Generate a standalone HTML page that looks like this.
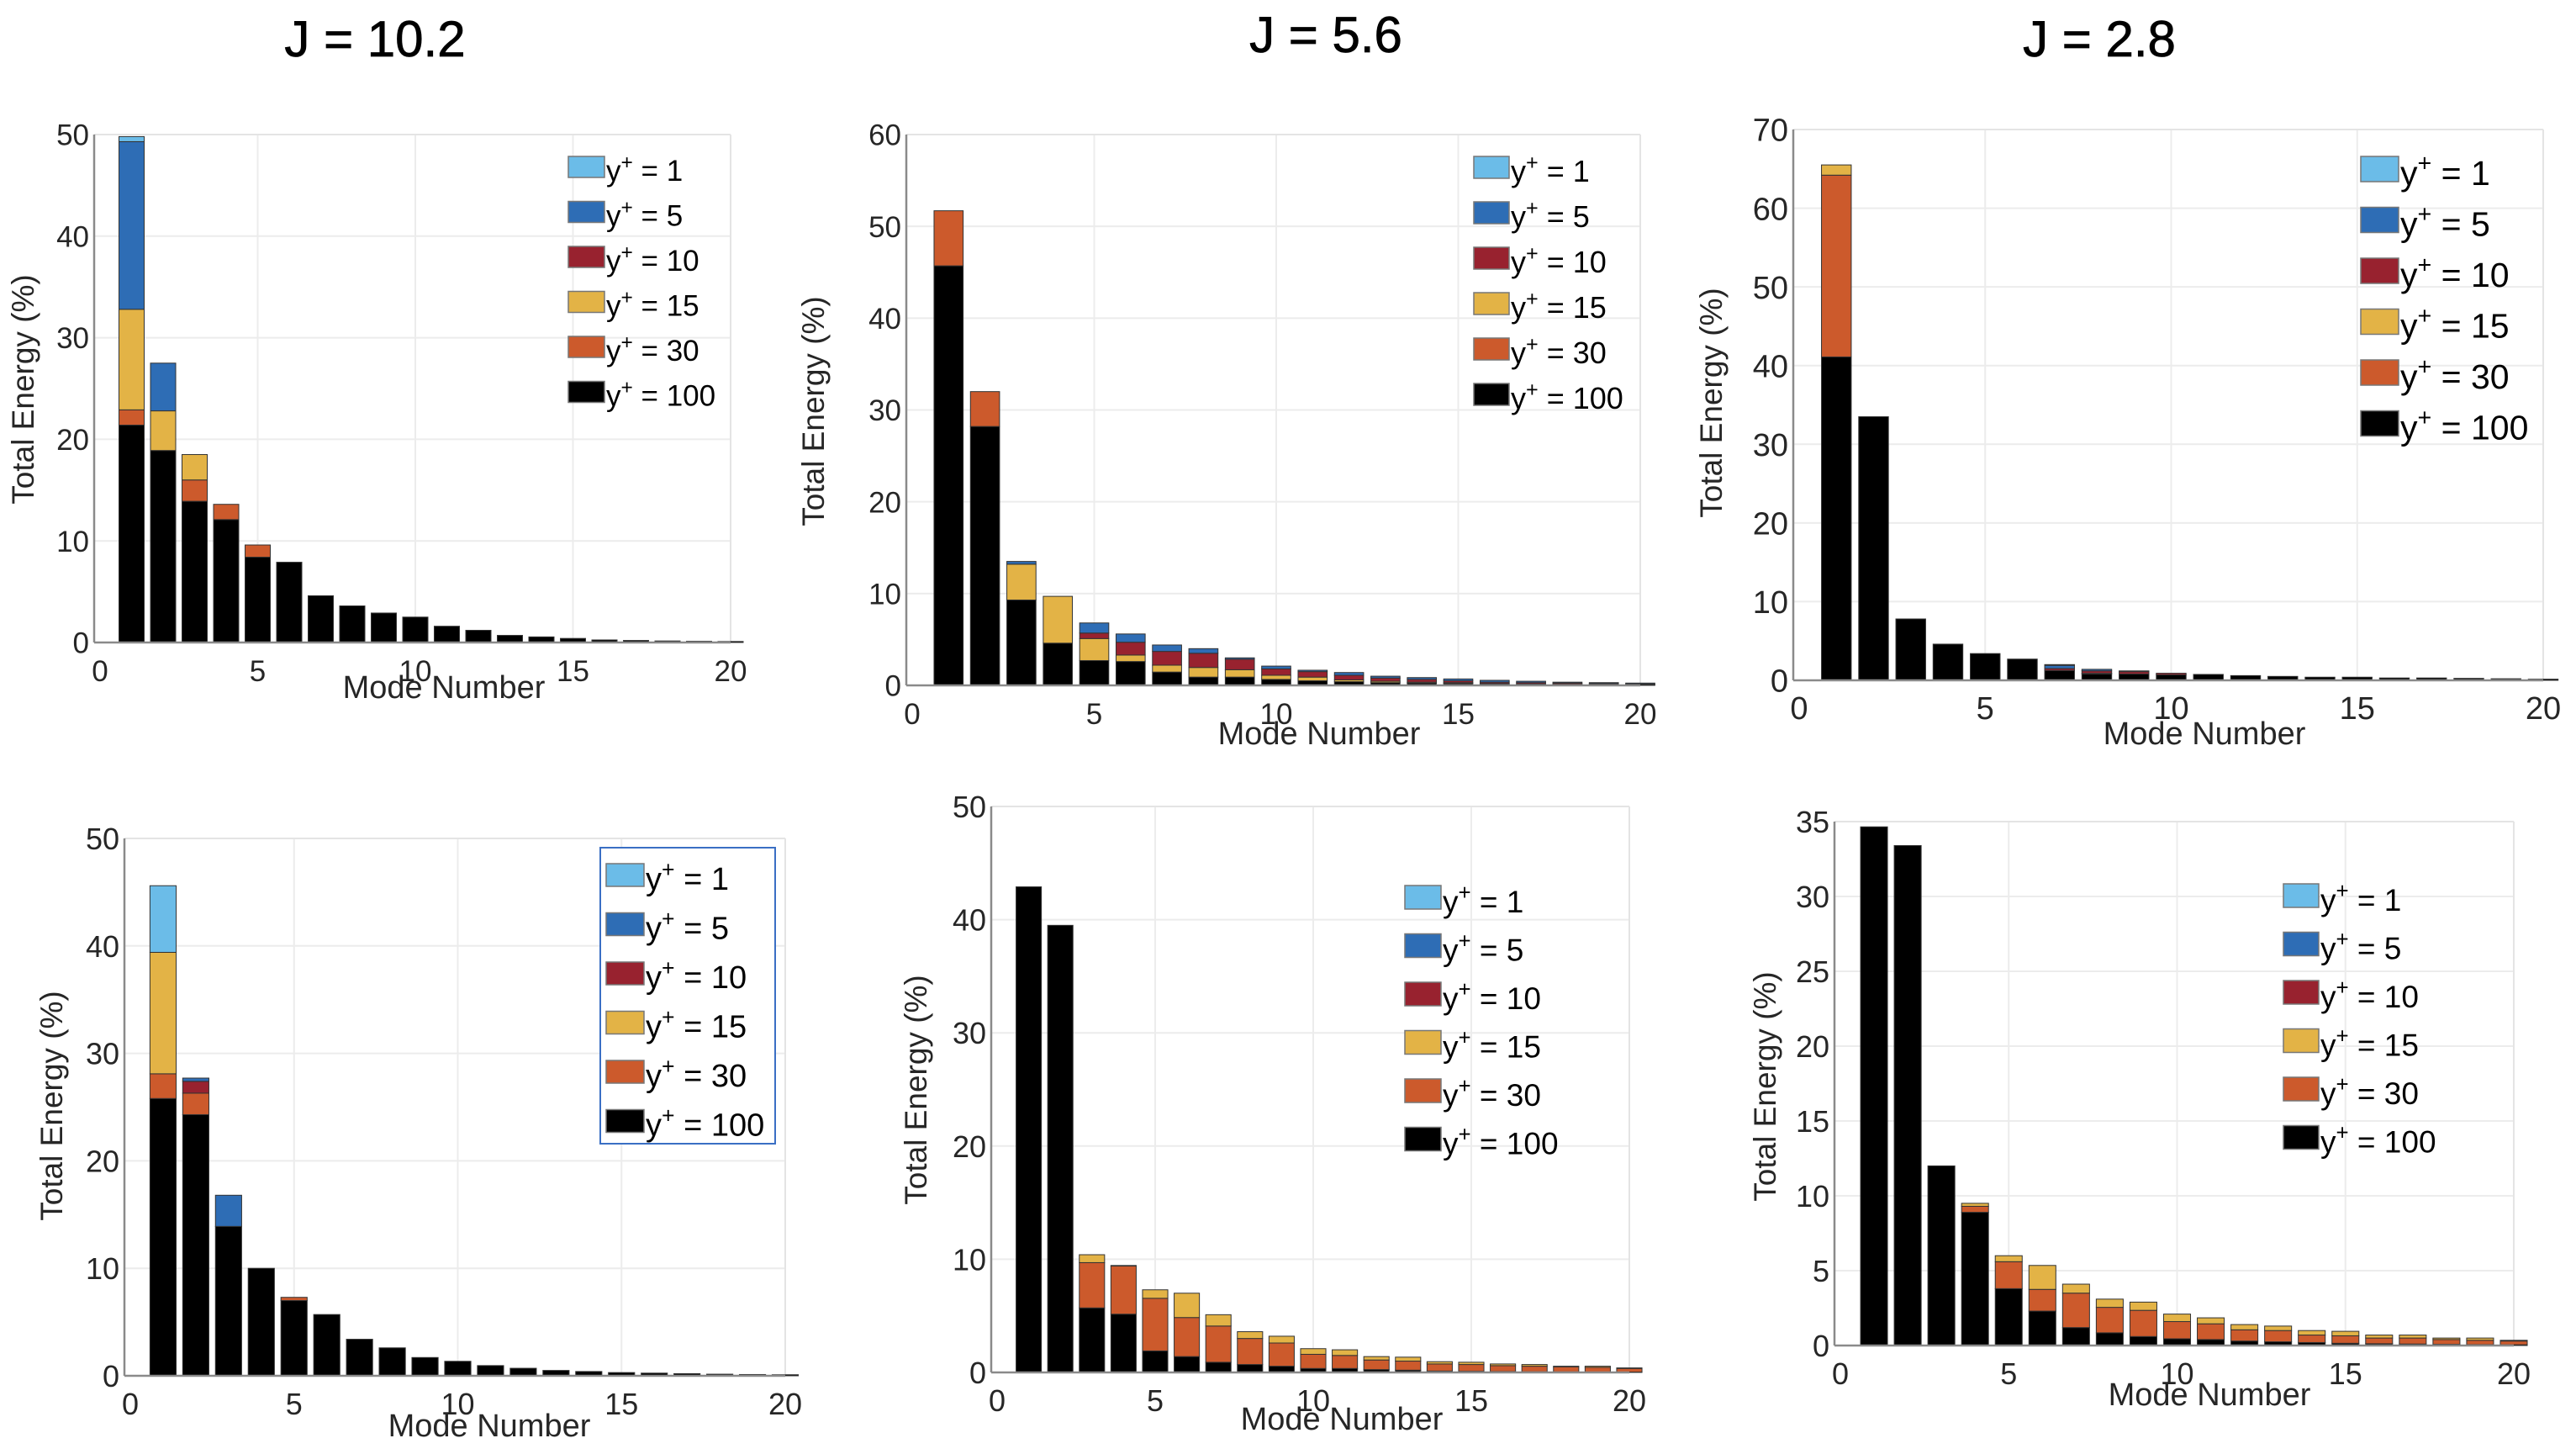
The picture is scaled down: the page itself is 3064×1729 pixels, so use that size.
<!DOCTYPE html>
<html><head><meta charset="utf-8">
<style>
html,body{margin:0;padding:0;background:#fff;}
svg{display:block;font-family:"Liberation Sans",Arial,sans-serif;}
</style></head>
<body>
<svg id="fig" width="3064" height="1729" viewBox="0 0 3064 1729" xmlns="http://www.w3.org/2000/svg">
<rect x="0" y="0" width="3064" height="1729" fill="#fff"/>
<text x="446" y="67" font-size="60" text-anchor="middle" fill="#000" stroke="#000" stroke-width="0.8">J = 10.2</text>
<text x="1577" y="62" font-size="60" text-anchor="middle" fill="#000" stroke="#000" stroke-width="0.8">J = 5.6</text>
<text x="2497" y="67" font-size="60" text-anchor="middle" fill="#000" stroke="#000" stroke-width="0.8">J = 2.8</text>
</svg>
<script>
// Series names (stack order bottom -> top) and labels
const seriesNames = ["y100","y30","y15","y10","y5","y1"];
const legendLabels = ["1","5","10","15","30","100"];
const modes = [1,2,3,4,5,6,7,8,9,10,11,12,13,14,15,16,17,18,19,20];
const xTicks = [0,5,10,15,20];

// Panel 1 (J=10.2, top)
const p1_y100 = [21.4,18.9,13.9,12.1,8.4,7.9,4.6,3.6,2.9,2.5,1.6,1.2,0.7,0.55,0.4,0.25,0.2,0.15,0.12,0.1];
const p1_y30  = [1.5,0,2.1,1.5,1.2,0,0,0,0,0,0,0,0,0,0,0,0,0,0,0];
const p1_y15  = [9.9,3.9,2.5,0,0,0,0,0,0,0,0,0,0,0,0,0,0,0,0,0];
const p1_y10  = [0,0,0,0,0,0,0,0,0,0,0,0,0,0,0,0,0,0,0,0];
const p1_y5   = [16.5,4.7,0,0,0,0,0,0,0,0,0,0,0,0,0,0,0,0,0,0];
const p1_y1   = [0.5,0,0,0,0,0,0,0,0,0,0,0,0,0,0,0,0,0,0,0];
const p1_yTicks = [0,10,20,30,40,50];

// Panel 2 (J=5.6, top)
const p2_y100 = [45.7,28.2,9.3,4.6,2.7,2.6,1.45,0.9,0.9,0.65,0.5,0.4,0.3,0.25,0.2,0.15,0.1,0.1,0.08,0.06];
const p2_y30  = [6.0,3.8,0,0,0,0,0,0,0,0,0,0,0,0,0,0,0,0,0,0];
const p2_y15  = [0,0,3.9,5.1,2.4,0.7,0.75,1.05,0.8,0.45,0.4,0.2,0.15,0.1,0.1,0.05,0.05,0.02,0.02,0.02];
const p2_y10  = [0,0,0,0,0.6,1.4,1.5,1.55,1.15,0.7,0.6,0.5,0.35,0.3,0.2,0.15,0.15,0.13,0.1,0.07];
const p2_y5   = [0,0,0.3,0,1.1,0.9,0.7,0.5,0.15,0.3,0.15,0.3,0.2,0.2,0.2,0.2,0.15,0.1,0.1,0.1];
const p2_y1   = [0,0,0,0,0,0,0,0,0,0,0,0,0,0,0,0,0,0,0,0];
const p2_yTicks = [0,10,20,30,40,50,60];

// Panel 3 (J=2.8, top)
const p3_y100 = [41.1,33.5,7.8,4.6,3.4,2.7,1.25,0.8,0.8,0.7,0.75,0.6,0.5,0.4,0.4,0.3,0.3,0.25,0.2,0.15];
const p3_y30  = [23.1,0,0,0,0,0,0,0,0,0,0,0,0,0,0,0,0,0,0,0];
const p3_y15  = [1.3,0,0,0,0,0,0,0.1,0,0,0,0,0,0,0,0,0,0,0,0];
const p3_y10  = [0,0,0,0,0,0,0.25,0.3,0.3,0.2,0,0,0,0,0,0,0,0,0,0];
const p3_y5   = [0,0,0,0,0,0,0.4,0.2,0.1,0,0,0,0,0,0,0,0,0,0,0];
const p3_y1   = [0,0,0,0,0,0,0.1,0,0,0,0,0,0,0,0,0,0,0,0,0];
const p3_yTicks = [0,10,20,30,40,50,60,70];

// Panel 4 (J=10.2, bottom)
const p4_y100 = [25.8,24.3,13.9,10.0,7.0,5.7,3.4,2.6,1.7,1.35,0.95,0.7,0.5,0.4,0.3,0.25,0.2,0.15,0.12,0.1];
const p4_y30  = [2.3,2.0,0,0,0.3,0,0,0,0,0,0,0,0,0,0,0,0,0,0,0];
const p4_y15  = [11.3,0,0,0,0,0,0,0,0,0,0,0,0,0,0,0,0,0,0,0];
const p4_y10  = [0,1.1,0,0,0,0,0,0,0,0,0,0,0,0,0,0,0,0,0,0];
const p4_y5   = [0,0.3,2.9,0,0,0,0,0,0,0,0,0,0,0,0,0,0,0,0,0];
const p4_y1   = [6.2,0,0,0,0,0,0,0,0,0,0,0,0,0,0,0,0,0,0,0];
const p4_yTicks = [0,10,20,30,40,50];

// Panel 5 (J=5.6, bottom)
const p5_y100 = [42.9,39.5,5.7,5.15,1.9,1.4,0.9,0.7,0.55,0.35,0.35,0.25,0.2,0.12,0.1,0.08,0.06,0.05,0.04,0.03];
const p5_y30  = [0,0,4.0,4.25,4.65,3.45,3.2,2.3,2.05,1.25,1.15,0.85,0.8,0.63,0.6,0.52,0.49,0.45,0.41,0.32];
const p5_y15  = [0,0,0.7,0.05,0.75,2.15,1.0,0.6,0.6,0.5,0.5,0.3,0.35,0.2,0.2,0.15,0.15,0.05,0.1,0.05];
const p5_y10  = [0,0,0,0,0,0,0,0,0,0,0,0,0,0,0,0,0,0,0,0];
const p5_y5   = [0,0,0,0,0,0,0,0,0,0,0,0,0,0,0,0,0,0,0,0];
const p5_y1   = [0,0,0,0,0,0,0,0,0,0,0,0,0,0,0,0,0,0,0,0];
const p5_yTicks = [0,10,20,30,40,50];

// Panel 6 (J=2.8, bottom)
const p6_y100 = [34.65,33.4,12.0,8.9,3.8,2.3,1.2,0.85,0.6,0.45,0.4,0.3,0.25,0.2,0.15,0.12,0.1,0.08,0.06,0.05];
const p6_y30  = [0,0,0,0.4,1.8,1.45,2.3,1.7,1.75,1.15,1.05,0.75,0.75,0.5,0.5,0.38,0.4,0.32,0.29,0.25];
const p6_y15  = [0,0,0,0.2,0.4,1.6,0.6,0.55,0.55,0.5,0.4,0.35,0.3,0.3,0.3,0.2,0.2,0.1,0.15,0.05];
const p6_y10  = [0,0,0,0,0,0,0,0,0,0,0,0,0,0,0,0,0,0,0,0];
const p6_y5   = [0,0,0,0,0,0,0,0,0,0,0,0,0,0,0,0,0,0,0,0];
const p6_y1   = [0,0,0,0,0,0,0,0,0,0,0,0,0,0,0,0,0,0,0,0];
const p6_yTicks = [0,5,10,15,20,25,30,35];

const colors = {y100:"#000000",y30:"#cc5a2c",y15:"#e3b346",y10:"#98222f",y5:"#2e6db5",y1:"#6bbce8"};

const NS = "http://www.w3.org/2000/svg";
const svg = document.getElementById("fig");
function el(tag, attrs, parent){
  const e = document.createElementNS(NS, tag);
  for (const k in attrs) e.setAttribute(k, attrs[k]);
  (parent||svg).appendChild(e);
  return e;
}

const panels = [
 {id:"p1", data:[p1_y100,p1_y30,p1_y15,p1_y10,p1_y5,p1_y1], yTicks:p1_yTicks, x0:119, x1:869, yb:764, yt:160, ymax:50, tf:35,
  leg:{sx:676, sy:186, dy:53.5, sw:43, sh:25, fs:35}, yl:[40,463], xl:[528,830], box:false},
 {id:"p2", data:[p2_y100,p2_y30,p2_y15,p2_y10,p2_y5,p2_y1], yTicks:p2_yTicks, x0:1085, x1:1951, yb:815, yt:160, ymax:60, tf:35,
  leg:{sx:1753, sy:186, dy:54, sw:42, sh:26, fs:36}, yl:[980,489], xl:[1569,885], box:false},
 {id:"p3", data:[p3_y100,p3_y30,p3_y15,p3_y10,p3_y5,p3_y1], yTicks:p3_yTicks, x0:2140, x1:3025, yb:809, yt:154, ymax:70, tf:38,
  leg:{sx:2808, sy:186, dy:60.5, sw:45, sh:30, fs:41}, yl:[2048,479], xl:[2622,885], box:false},
 {id:"p4", data:[p4_y100,p4_y30,p4_y15,p4_y10,p4_y5,p4_y1], yTicks:p4_yTicks, x0:155, x1:934, yb:1636, yt:997, ymax:50, tf:36,
  leg:{sx:721, sy:1027, dy:58.5, sw:45, sh:27, fs:38}, yl:[74,1315], xl:[582,1708], box:true},
 {id:"p5", data:[p5_y100,p5_y30,p5_y15,p5_y10,p5_y5,p5_y1], yTicks:p5_yTicks, x0:1186, x1:1938, yb:1632, yt:959, ymax:50, tf:36,
  leg:{sx:1671, sy:1053, dy:57.5, sw:43, sh:28, fs:37}, yl:[1102,1296], xl:[1596,1700], box:false},
 {id:"p6", data:[p6_y100,p6_y30,p6_y15,p6_y10,p6_y5,p6_y1], yTicks:p6_yTicks, x0:2189, x1:2990, yb:1600, yt:977, ymax:35, tf:36,
  leg:{sx:2716, sy:1051, dy:57.5, sw:42, sh:28, fs:37}, yl:[2112,1292], xl:[2628,1671], box:false}
];

panels.forEach(p=>{
  const g = el("g", {});
  
  
  const xs = v => p.x0 + (p.x1 - p.x0) * v / 20;
  const ys = v => p.yb - (p.yb - p.yt) * v / p.ymax;
  const axL = p.x0 - 7;
  p.yTicks.forEach(t=>{
    if (t===0) return;
    const ln = el("line",{x1:axL,x2:p.x1,y1:ys(t),y2:ys(t),stroke:"#ececec","stroke-width":2},g);
    
    
  });
  xTicks.forEach(t=>{
    if (t===0||t===20) return;
    const ln = el("line",{x1:xs(t),x2:xs(t),y1:p.yt,y2:p.yb,stroke:"#ececec","stroke-width":2},g);
    
    
  });
  el("line",{x1:axL,x2:p.x1,y1:p.yt,y2:p.yt,stroke:"#e4e4e4","stroke-width":2},g);
  el("line",{x1:p.x1,x2:p.x1,y1:p.yt,y2:p.yb,stroke:"#e4e4e4","stroke-width":2},g);
  const bw = (p.x1 - p.x0) / 20 * 0.8;
  modes.forEach((m,i)=>{
    let cum = 0;
    p.data.forEach((arr,s)=>{
      const v = arr[i];
      if (v<=0) return;
      const top = cum + v;
      const r = el("rect",{x:xs(m)-bw/2, y:ys(top), width:bw, height:ys(cum)-ys(top), fill:colors[seriesNames[s]], stroke:"#333", "stroke-width":1},g);
      
      
      cum = top;
    });
  });
  const xa = el("line",{x1:axL,x2:p.x1,y1:p.yb,y2:p.yb,stroke:"#8a8a8a","stroke-width":2.5},g);
  
  
  const ya = el("line",{x1:axL,x2:axL,y1:p.yt,y2:p.yb,stroke:"#8a8a8a","stroke-width":2.5},g);
  
  
  p.yTicks.forEach(t=>{
    const tx = el("text",{x:axL-6,y:ys(t)+p.tf*0.36,"font-size":p.tf,"text-anchor":"end",fill:"#262626"},g);
    tx.textContent = t;
    
    
  });
  xTicks.forEach(t=>{
    const tx = el("text",{x:xs(t),y:p.yb+46,"font-size":p.tf,"text-anchor":"middle",fill:"#262626"},g);
    tx.textContent = t;
    
    
  });
  const yt = el("text",{x:p.yl[0],y:p.yl[1],"font-size":37,"text-anchor":"middle",fill:"#262626",transform:"rotate(-90 "+p.yl[0]+" "+p.yl[1]+")"},g);
  yt.textContent = "Total Energy (%)";
  
  
  const xt = el("text",{x:p.xl[0],y:p.xl[1],"font-size":38,"text-anchor":"middle",fill:"#262626"},g);
  xt.textContent = "Mode Number";
  
  
  const L = p.leg;
  const lg = el("g",{},g);
  
  
  if (p.box){
    el("rect",{x:714,y:1008,width:208,height:352,fill:"#fff",stroke:"#3a6fc4","stroke-width":2},lg);
  }
  const order = ["y1","y5","y10","y15","y30","y100"];
  order.forEach((s,k)=>{
    const y = L.sy + k*L.dy;
    const sw = el("rect",{x:L.sx,y:y,width:L.sw,height:L.sh,fill:colors[s],stroke:"#777","stroke-width":1.5},lg);
    
    
    const tx = el("text",{x:L.sx+L.sw+2,y:y+L.sh+4,"font-size":L.fs,fill:"#000"},lg);
    
    
    const t1 = el("tspan",{},tx); t1.textContent = "y";
    const t2 = el("tspan",{dy:-L.fs*0.4,"font-size":L.fs*0.7},tx); t2.textContent = "+";
    const t3 = el("tspan",{dy:L.fs*0.4},tx); t3.textContent = " = " + legendLabels[k];
  });
});
</script>
</body></html>
